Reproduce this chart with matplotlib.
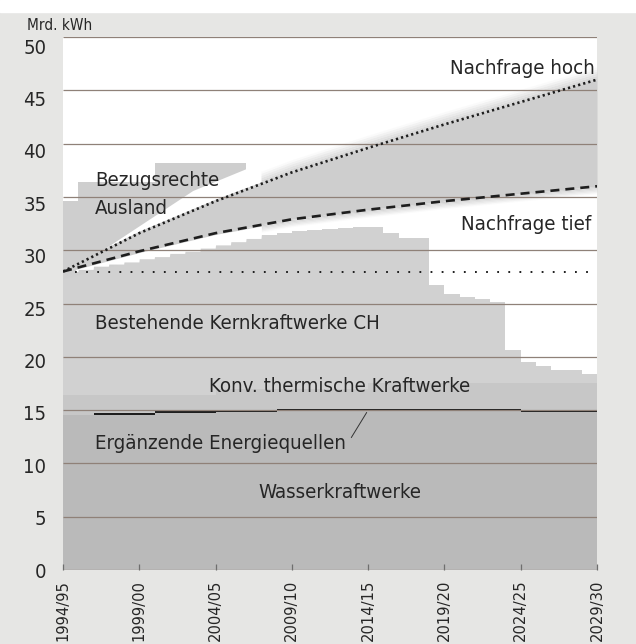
import numpy as np
import matplotlib
matplotlib.use("Agg")
import matplotlib.pyplot as plt
from matplotlib import font_manager

# narrow face if there is one, else plain DejaVu
faces = font_manager.fontManager.ttflist
names = {f.name for f in faces}
condensed = any(f.name == 'DejaVu Sans' and str(f.stretch) in ('condensed', '87.5', '87')
                for f in faces)
if condensed:
    plt.rcParams['font.family'] = ['DejaVu Sans']
    plt.rcParams['font.stretch'] = 'condensed'
    SCALE = 1.0
elif 'Liberation Sans Narrow' in names:
    plt.rcParams['font.family'] = ['Liberation Sans Narrow', 'DejaVu Sans']
    SCALE = 1.05
else:
    plt.rcParams['font.family'] = ['DejaVu Sans']
    SCALE = 0.92
plt.rcParams['lines.scale_dashes'] = False

# ---- data (Mrd. kWh), one value per year, 1994/95 = 0 ... 2029/30 = 35
year_labels = ['1994/95', '1999/00', '2004/05', '2009/10', '2014/15',
               '2019/20', '2024/25', '2029/30']
years = np.arange(36)

wasser = [14.55, 14.55, 14.55, 14.55, 14.55, 14.55, 14.7, 14.7, 14.7, 14.7,
          14.8, 14.8, 14.8, 14.8, 14.95, 14.95, 14.95, 14.95, 14.95, 14.95,
          14.95, 14.95, 14.95, 14.95, 14.95, 14.95, 14.95, 14.95, 14.95, 14.95,
          14.85, 14.85, 14.85, 14.85, 14.8, 14.8]
ergaenzend = [0.0, 0.0, 0.2, 0.2, 0.2, 0.2, 0.2, 0.2, 0.2, 0.2,
              0.2, 0.2, 0.2, 0.2, 0.2, 0.2, 0.2, 0.2, 0.2, 0.2,
              0.2, 0.2, 0.2, 0.2, 0.2, 0.2, 0.2, 0.2, 0.2, 0.2,
              0.2, 0.2, 0.2, 0.2, 0.2, 0.2]
konv = [1.85, 1.85, 1.65, 1.65, 1.65, 1.65, 1.5, 1.5, 1.5, 1.5,
        2.0, 2.0, 2.0, 2.0, 1.85, 1.85, 1.85, 1.85, 1.85, 1.85,
        2.35, 2.35, 2.35, 2.35, 2.35, 2.35, 2.35, 2.35, 2.35, 2.35,
        2.45, 2.45, 2.45, 2.45, 2.5, 2.5]
kern = [11.6, 11.8, 12.1, 12.3, 12.5, 12.8, 13.0, 13.3, 13.5, 13.8,
        13.5, 13.8, 14.1, 14.4, 14.6, 14.8, 14.9, 15.0, 15.1, 15.2,
        14.7, 14.1, 13.6, 13.6, 9.2, 8.4, 8.1, 7.9, 7.6, 3.1,
        2.0, 1.6, 1.3, 1.3, 0.9, 0.9]
bezug = [6.6, 8.2, 7.9, 7.7, 7.5, 7.2, 8.8, 8.5, 8.3, 8.0,
         7.7, 7.4, 7.1, 0.0, 0.0, 0.0, 0.0, 0.0, 0.0, 0.0,
         0.0, 0.0, 0.0, 0.0, 0.0, 0.0, 0.0, 0.0, 0.0, 0.0,
         0.0, 0.0, 0.0, 0.0, 0.0, 0.0]

# demand scenarios
demand_years = [0, 5, 10, 15, 20, 25, 30, 35]
nachfrage_hoch = [28.0, 31.6, 34.6, 37.3, 39.6, 41.8, 43.9, 46.0]
nachfrage_tief = [28.0, 29.9, 31.6, 32.9, 33.8, 34.6, 35.3, 36.0]
niveau_heute = 28.0

# white gap above high demand inside the import block
gap_years = [1.5, 8.5, 13.1]
gap_top = [29.0, 35.6, 38.3]

# ---- colours
paper = '#e6e6e4'
c_wasser = '#bababa'
c_erg = '#1e1e1e'
c_konv = '#c7c7c7'
c_kern = '#d1d1d1'
c_bezug = '#cecece'
c_band = '#cecece'
c_grid = '#8f8178'
c_text = '#262626'

fig = plt.figure(figsize=(6.36, 6.44), dpi=100, facecolor=paper)
fig.patches.append(plt.Rectangle((0, 1 - 12 / 644), 1, 12 / 644,
                                 transform=fig.transFigure, color='white',
                                 zorder=0))
ax = fig.add_axes([63 / 636, 74 / 644, 534 / 636, 533 / 644])
ax.set_facecolor('white')

layers = [wasser, ergaenzend, konv, kern, bezug]
colors = [c_wasser, c_erg, c_konv, c_kern, c_bezug]
stack = np.vstack([np.zeros(36), np.cumsum(np.array(layers), axis=0)])
for i, col in enumerate(colors):
    lo, hi = stack[i], stack[i + 1]
    ax.fill_between(years, lo, hi, where=hi > lo, step='post', color=col,
                    lw=0, zorder=1)

# fine grid for the demand corridor
xf = np.linspace(0, 35, 1401)
hoch_f = np.interp(xf, demand_years, nachfrage_hoch)
tief_f = np.interp(xf, demand_years, nachfrage_tief)
idx = np.minimum(np.floor(xf).astype(int), 35)
kern_top_f = stack[4][idx]
bezug_top_f = stack[5][idx]

ax.fill_between(xf, tief_f, hoch_f, color=c_band, lw=0, zorder=2)
# soft fringes
n = 6
for k in range(n):
    a = 1 - (k + 0.5) / n
    ax.fill_between(xf, hoch_f + k * 1.2 / n, hoch_f + (k + 1) * 1.2 / n,
                    color=c_band, alpha=a, lw=0, zorder=2)
    ax.fill_between(xf, tief_f - (k + 1) * 0.7 / n, tief_f - k * 0.7 / n,
                    color=c_band, alpha=a, lw=0, zorder=2)

# white wedges inside the import block
m = xf <= 13.0
low_edge = tief_f - 0.12
ax.fill_between(xf[m], kern_top_f[m], low_edge[m],
                where=(low_edge[m] > kern_top_f[m]) & (xf[m] > 0.8),
                color='white', lw=0, zorder=3)
wedge_top = np.interp(xf, gap_years, gap_top)
up_low = hoch_f + 0.2
up_high = np.minimum(wedge_top, bezug_top_f)
m2 = (xf >= 1.5) & (xf <= 13.1)
ax.fill_between(xf[m2], up_low[m2], up_high[m2],
                where=up_high[m2] > up_low[m2], color='white', lw=0,
                zorder=3)

# lines
ax.plot(demand_years, nachfrage_hoch, color='#1e1e1e', lw=1.9,
        dashes=(1.6, 2.2), zorder=6)
ax.plot(demand_years, nachfrage_tief, color='#1e1e1e', lw=1.9,
        dashes=(6.5, 4.3), zorder=6)
ax.plot([0.8, 35], [niveau_heute, niveau_heute], color='#1e1e1e', lw=1.4,
        dashes=(1.3, 6.7), zorder=6)

# grid lines
grid_vals = np.arange(0, 51, 5)
ax.hlines(grid_vals, 0, 35, color=c_grid, lw=0.9, zorder=5)

# axes
ax.set_xlim(0, 35)
ax.set_ylim(0, 50)
# labels sit slightly below their grid lines towards the top, as printed
ax.set_yticks(grid_vals * 0.983)
ax.set_yticklabels([str(v) for v in grid_vals], fontsize=14.5 * SCALE,
                   color=c_text)
ax.set_xticks(np.arange(0, 36, 5))
ax.set_xticklabels(year_labels, rotation=90, fontsize=11.8 * SCALE,
                   color=c_text)
ax.tick_params(axis='y', length=0, pad=12)
ax.tick_params(axis='x', direction='in', length=4, width=0.9,
               color='#6e6e6e', pad=7)
for s in ax.spines.values():
    s.set_visible(False)

# texts
fs = 14.7 * SCALE
ax.text(-0.068, 1.021, 'Mrd. kWh', transform=ax.transAxes,
        fontsize=11.0 * SCALE, color=c_text, ha='left', va='center')
ax.text(2.1, 36.5, 'Bezugsrechte', fontsize=fs, color=c_text, va='center',
        zorder=7)
ax.text(2.1, 33.9, 'Ausland', fontsize=fs, color=c_text, va='center',
        zorder=7)
ax.text(34.85, 47.0, 'Nachfrage hoch', fontsize=fs, color=c_text,
        ha='right', va='center', zorder=7)
ax.text(34.6, 32.4, 'Nachfrage tief', fontsize=fs, color=c_text,
        ha='right', va='center', zorder=7)
ax.text(2.1, 23.1, 'Bestehende Kernkraftwerke CH', fontsize=fs,
        color=c_text, va='center', zorder=7)
ax.text(9.6, 17.2, 'Konv. thermische Kraftwerke', fontsize=fs,
        color=c_text, va='center', zorder=7)
ax.text(2.1, 11.9, 'Ergänzende Energiequellen', fontsize=fs,
        color=c_text, va='center', zorder=7)
ax.text(18.15, 7.3, 'Wasserkraftwerke', fontsize=fs, color=c_text,
        ha='center', va='center', zorder=7)
ax.annotate('', xy=(20.0, 15.0), xytext=(18.8, 12.2),
            arrowprops=dict(arrowstyle='-', color='#333333', lw=0.7),
            zorder=7)

fig.savefig('out.png', dpi=100, facecolor=fig.get_facecolor())
